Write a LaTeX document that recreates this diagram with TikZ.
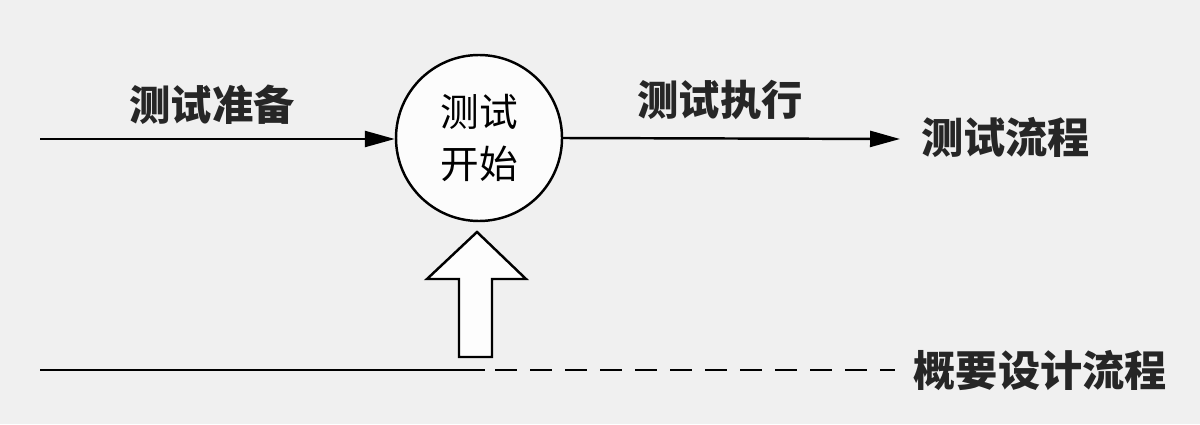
\documentclass[tikz,border=0pt]{standalone}
\usepackage{fontspec}
\setmainfont{Noto Sans CJK SC}
\usetikzlibrary{arrows.meta}
\usetikzlibrary{positioning}

\tikzset{
  flow/.style={line width=1.4pt,-{Triangle[length=0.6cm,width=0.32cm]}},
  lbl/.style={font=\fontsize{23.5}{26}\selectfont\bfseries,text=black!85},
}

\begin{document}
\begin{tikzpicture}
\useasboundingbox[fill=black!6] (0,0) rectangle (24,8.48);

\node (start) [draw,circle,line width=1.4pt,minimum size=3.32cm,align=center,
  font=\fontsize{22}{29.5}\selectfont,fill=white!60!black!3] at (9.58,5.72) {测试\\开始};
\coordinate (in) at (0.8,5.70);
\coordinate (out) at (18.0,5.70);
\node (prep) [lbl] at (4.24,6.38) {测试准备};
\node (exec) [lbl] at (14.4,6.48) {测试执行};
\node (test) [lbl,anchor=west,font=\fontsize{24}{26}\selectfont\bfseries] at (18.3,5.74) {测试流程};

\draw[flow](in)--(in-|start.west);
\draw[flow](start.east)--(out);

% design line
\coordinate (d0) at (0.8,1.08);
\coordinate (d1) at (9.7,1.08);
\coordinate (d2) at (9.9,1.08);
\coordinate (d3) at (17.9,1.08);
\node (design) [lbl,anchor=west,font=\fontsize{24}{26}\selectfont\bfseries] at (18.15,1.08) {概要设计流程};
\draw[line width=1.4pt](d0)--(d1);
\draw[line width=1.4pt,dash pattern=on 0.44cm off 0.26cm](d2)--(d3);

% big up arrow
\draw[line width=1.4pt,line join=miter,fill=white!70!black!3]
  (9.18,1.34)--(9.18,2.90)--(8.54,2.90)--(9.54,3.84)--(10.52,2.90)
  --(9.84,2.90)--(9.84,1.34)--cycle;
\end{tikzpicture}
\end{document}
